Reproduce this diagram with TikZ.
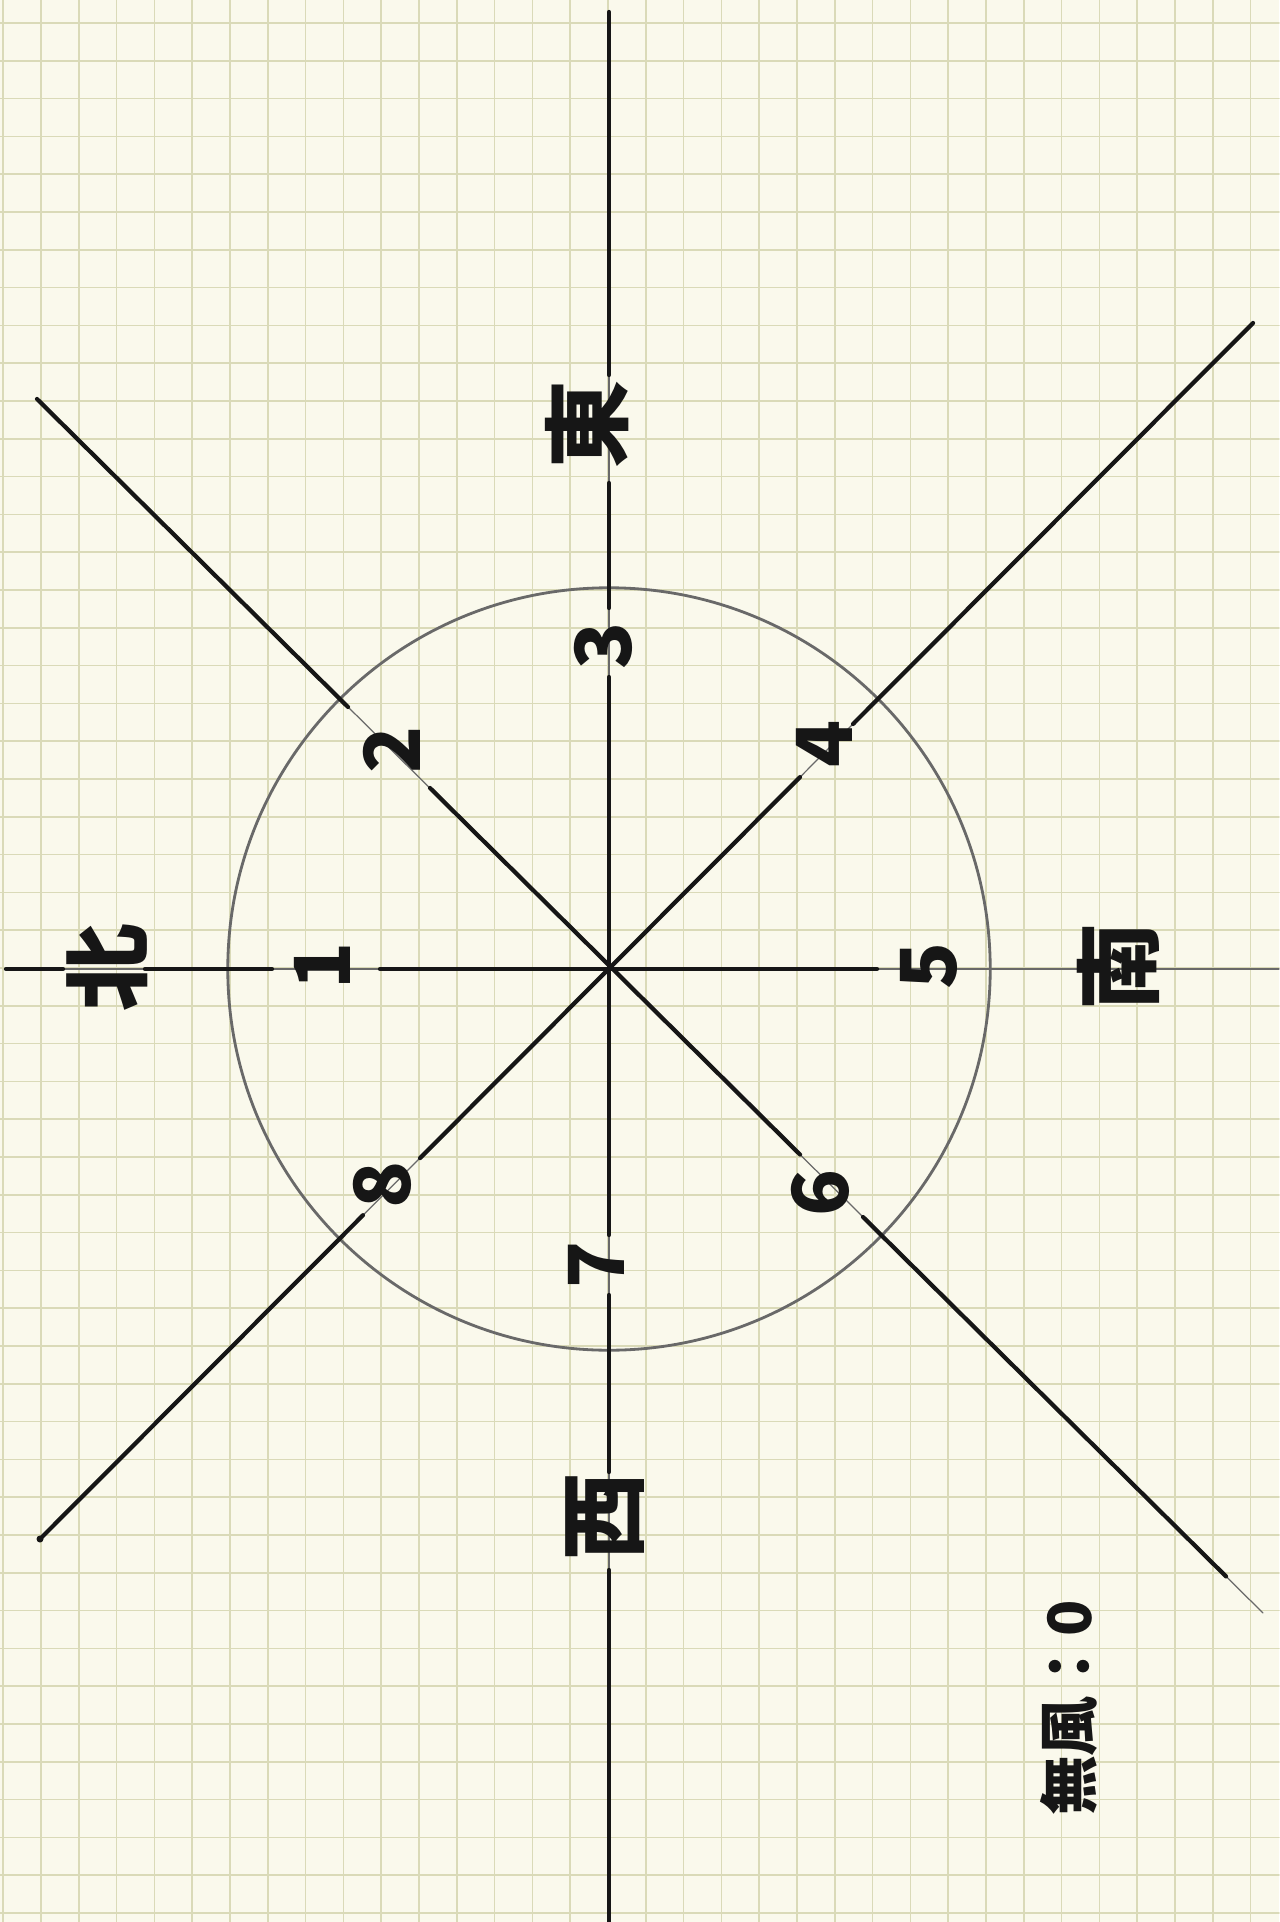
\documentclass[tikz,border=0pt]{standalone}
\usepackage{fontspec}
\newfontfamily\cjk{Noto Sans CJK JP}
\usetikzlibrary{calc}

\definecolor{paper}{RGB}{250,249,236}
\definecolor{gridline}{RGB}{218,218,184}
\definecolor{inkline}{RGB}{22,22,22}
\definecolor{pencilline}{RGB}{105,105,105}

\begin{document}
\begin{tikzpicture}[x=0.01cm, y=-0.01cm, line cap=round,
  ink/.style={line width=1.2pt, inkline},
  pencil/.style={line width=0.35pt, pencilline},
  digit/.style={font=\cjk\bfseries\fontsize{22}{24}\selectfont, rotate=90, inner sep=0pt, inkline},
  hanzi/.style={font=\cjk\bfseries\fontsize{25}{28}\selectfont, rotate=90, inner sep=0pt, inkline}]
  % Sheet of graph paper: 1279 x 1922 px, grid step 37.8 px
  \fill[paper] (0,0) rectangle (1279,1922);
  \useasboundingbox (0,0) rectangle (1279,1922);
  \foreach \i in {-16,...,17} {
    \draw[gridline, line width=0.45pt] ({608+37.8*\i},0) -- ({608+37.8*\i},1922);
  }
  \foreach \j in {-25,...,25} {
    \draw[gridline, line width=0.45pt] (0,{968+37.8*\j}) -- (1279,{968+37.8*\j});
  }

  % Centre and line ends
  \coordinate (c) at (609,969);
  \coordinate (nEnd) at (6,969);
  \coordinate (sEnd) at (1279,969);
  \coordinate (eEnd) at (609,12);
  \coordinate (wEnd) at (609,1922);
  \coordinate (neEnd) at (37,399);
  \coordinate (swEnd) at (1263,1613);
  \coordinate (seEnd) at (1253,323);
  \coordinate (nwEnd) at (40,1539);

  % Pencil guide lines and circle
  \draw[pencil] (nEnd) -- (sEnd);
  \draw[pencil] (eEnd) -- (wEnd);
  \draw[pencil] (neEnd) -- (swEnd);
  \draw[pencil] (nwEnd) -- (seEnd);
  \draw[pencilline, line width=0.8pt] (c) circle[radius=3.81cm];

  % Inked parts (gaps left for the labels)
  \draw[ink] (nEnd) -- (63,969);
  \draw[ink] (145,969) -- (272,969);
  \draw[ink] (380,969) -- (877,969);
  \draw[ink] (eEnd) -- (609,375);
  \draw[ink] (609,483) -- (609,608);
  \draw[ink] (609,677) -- (609,1235);
  \draw[ink] (609,1295) -- (609,1472);
  \draw[ink] (609,1570) -- (wEnd);
  \draw[ink] (neEnd) -- (348,707);
  \draw[ink] (430,788) -- (800,1154.5);
  \draw[ink] (863,1217) -- (1226,1576.4);
  \draw[ink] (nwEnd) -- (363,1215.2);
  \draw[ink] (420,1158.1) -- (800,777.1);
  \draw[ink] (853,724) -- (seEnd);
  \fill[inkline] (nwEnd) circle[radius=3.5];

  % Compass points
  \node[hanzi] (north) at (107,968) {北};
  \node[hanzi] (east) at (587,425) {東};
  \node[hanzi] (south) at (1118,967) {南};
  \node[hanzi] (west) at (605,1517) {西};

  % Numbered directions
  \node[digit] (d1) at (322,966) {1};
  \node[digit] (d2) at (392,750) {2};
  \node[digit] (d3) at (603,646) {3};
  \node[digit] (d4) at (824,744) {4};
  \node[digit] (d5) at (929,966) {5};
  \node[digit] (d6) at (820,1193) {6};
  \node[digit] (d7) at (596,1265) {7};
  \node[digit] (d8) at (382,1185) {8};

  % Note
  \node[font=\cjk\bfseries\fontsize{17}{20}\selectfont, rotate=90, inner sep=0pt, inkline] (calm) at (1069,1708) {無風：0};
\end{tikzpicture}
\end{document}
